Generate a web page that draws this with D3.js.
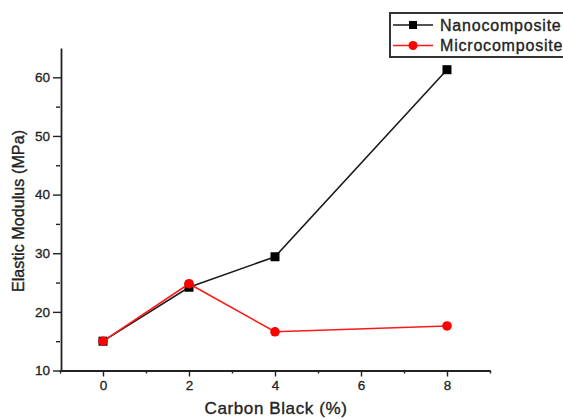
<!DOCTYPE html>
<html>
<head>
<meta charset="utf-8">
<script src="https://cdn.jsdelivr.net/npm/d3@7"></script>
<style>
  body { margin: 0; background: #fff; }
  svg { display: block; font-family: Arial, 'Liberation Sans', sans-serif; }
  text { paint-order: stroke; }
</style>
</head>
<body>
<svg id="chart" width="563" height="419"></svg>
<script>
// carbon black loading (%)
var loadings = [0, 2, 4, 8];
// elastic modulus (MPa)
var nanoValues = [15.0, 24.2, 29.4, 61.3];
var microValues = [15.0, 24.8, 16.6, 17.6];
var seriesNames = ['Nanocomposite', 'Microcomposite'];
var xTickValues = [0, 2, 4, 6, 8];
var xMinorValues = [-1, 1, 3, 5, 7, 9];
var yTickValues = [10, 20, 30, 40, 50, 60];
var yMinorValues = [15, 25, 35, 45, 55];

var svg = d3.select('#chart');
var ink = '#222';

var x = d3.scaleLinear().domain([-1, 9]).range([60, 490]);
var y = d3.scaleLinear().domain([10, 65]).range([370.5, 48]);

/* minor ticks first, so the major ones draw over them */
svg.append('g')
  .attr('transform', 'translate(0,' + y(10) + ')')
  .call(d3.axisBottom(x).tickValues(xMinorValues).tickSize(3).tickFormat(''))
  .call(function (g) { g.select('.domain').remove(); });

svg.append('g')
  .attr('transform', 'translate(' + x(-1) + ',0)')
  .call(d3.axisLeft(y).tickValues(yMinorValues).tickSize(4).tickFormat(''))
  .call(function (g) { g.select('.domain').remove(); });

var xAxis = svg.append('g')
  .attr('transform', 'translate(0,' + y(10) + ')')
  .call(d3.axisBottom(x).tickValues(xTickValues).tickSize(6).tickSizeOuter(0).tickPadding(4));

var yAxis = svg.append('g')
  .attr('transform', 'translate(' + (x(-1) + 1) + ',0)')
  .call(d3.axisLeft(y).tickValues(yTickValues).tickSize(8).tickSizeOuter(0).tickPadding(3));

[xAxis, yAxis].forEach(function (g) {
  g.selectAll('.domain').attr('stroke', ink).attr('stroke-width', 1.8);
  g.selectAll('text')
    .attr('fill', ink)
    .attr('stroke', ink)
    .attr('stroke-width', 0.3)
    .style('font-size', '13.5px');
});
svg.selectAll('.tick line').attr('stroke', ink).attr('stroke-width', 1.4);

// axis titles
svg.append('text')
  .attr('x', 276)
  .attr('y', 414)
  .attr('text-anchor', 'middle')
  .attr('fill', ink)
  .attr('stroke', ink)
  .attr('stroke-width', 0.35)
  .style('font-size', '17px')
  .style('letter-spacing', '0.6px')
  .text('Carbon Black (%)');

svg.append('text')
  .attr('transform', 'translate(24,211) rotate(-90)')
  .attr('text-anchor', 'middle')
  .attr('fill', ink)
  .attr('stroke', ink)
  .attr('stroke-width', 0.35)
  .style('font-size', '16px')
  .style('letter-spacing', '0.1px')
  .text('Elastic Modulus (MPa)');

var line = d3.line()
  .x(function (d) { return x(d[0]); })
  .y(function (d) { return y(d[1]); });

function pairs(values) {
  return loadings.map(function (l, i) { return [l, values[i]]; });
}

// Nanocomposite: black, squares
var nano = pairs(nanoValues);
svg.append('path')
  .datum(nano)
  .attr('d', line)
  .attr('fill', 'none')
  .attr('stroke', '#1a1a1a')
  .attr('stroke-width', 1.6);
svg.selectAll('rect.nano')
  .data(nano)
  .enter()
  .append('rect')
  .attr('class', 'nano')
  .attr('x', function (d) { return x(d[0]) - 4.5; })
  .attr('y', function (d) { return y(d[1]) - 4.5; })
  .attr('width', 9)
  .attr('height', 9)
  .attr('fill', '#000');

// Microcomposite: red, circles
var micro = pairs(microValues);
svg.append('path')
  .datum(micro)
  .attr('d', line)
  .attr('fill', 'none')
  .attr('stroke', '#ff1a1a')
  .attr('stroke-width', 1.6);
svg.selectAll('circle.micro')
  .data(micro)
  .enter()
  .append('circle')
  .attr('class', 'micro')
  .attr('cx', function (d) { return x(d[0]); })
  .attr('cy', function (d) { return y(d[1]); })
  .attr('r', 4.8)
  .attr('fill', '#ff0000');

// legend, runs off the right edge like the original
var legend = svg.append('g');
legend.append('rect')
  .attr('x', 390)
  .attr('y', 13)
  .attr('width', 200)
  .attr('height', 44)
  .attr('fill', '#fff')
  .attr('stroke', '#333')
  .attr('stroke-width', 2);

var rows = [
  { name: seriesNames[0], color: '#1a1a1a', y: 25, square: true },
  { name: seriesNames[1], color: '#ff1a1a', y: 45.5, square: false }
];
rows.forEach(function (r) {
  legend.append('line')
    .attr('x1', 393).attr('x2', 433)
    .attr('y1', r.y).attr('y2', r.y)
    .attr('stroke', r.color)
    .attr('stroke-width', 1.6);
  if (r.square) {
    legend.append('rect')
      .attr('x', 413 - 4).attr('y', r.y - 4)
      .attr('width', 8).attr('height', 8)
      .attr('fill', '#000');
  } else {
    legend.append('circle')
      .attr('cx', 413).attr('cy', r.y)
      .attr('r', 4.5)
      .attr('fill', '#ff0000');
  }
  legend.append('text')
    .attr('x', 440)
    .attr('y', r.y + 5.5)
    .attr('fill', ink)
    .attr('stroke', ink)
    .attr('stroke-width', 0.35)
    .style('font-size', '16px')
    .style('letter-spacing', '0.8px')
    .text(r.name);
});
</script>
</body>
</html>
